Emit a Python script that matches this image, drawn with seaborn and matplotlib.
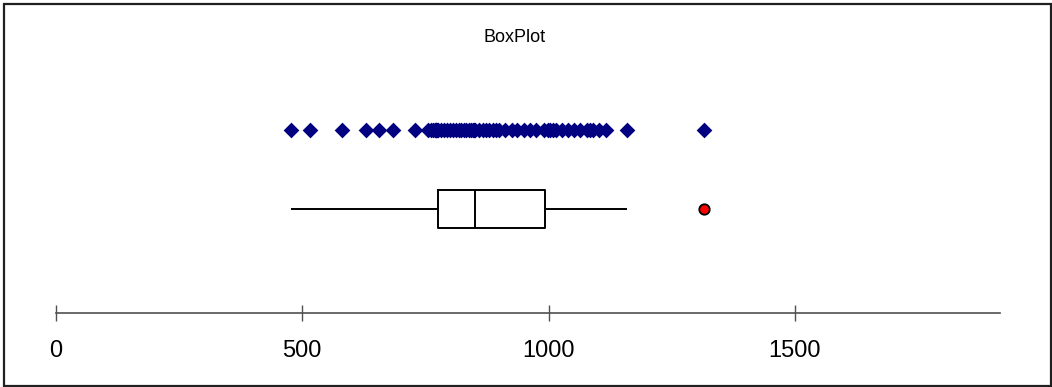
import matplotlib
matplotlib.use('Agg')
import matplotlib.pyplot as plt
import seaborn as sns
import pandas as pd
from matplotlib.patches import Rectangle

# values (one row of diamonds + the boxplot of the same data)
values = [478, 516, 580, 629, 655, 684, 729,
          755, 761, 765, 769, 771, 772, 772, 773,
          776, 782, 788, 794, 800, 806, 812, 818, 823, 829, 833, 838, 842, 846, 849,
          851, 858, 866, 873, 880, 887, 893, 900, 912, 925, 937, 950, 962, 975, 990,
          998, 1004, 1009, 1016, 1027, 1040, 1052, 1064, 1078, 1085, 1090, 1103, 1116,
          1160, 1315]
rows = ['points', 'box']
xticks = [0, 500, 1000, 1500]
title = 'BoxPlot'

df_pts = pd.DataFrame({'value': values, 'row': rows[0]})
df_box = pd.DataFrame({'value': values, 'row': rows[1]})

sns.set_style('white')
plt.rcParams['font.family'] = ['Liberation Sans', 'DejaVu Sans']
plt.rcParams['text.color'] = 'black'
plt.rcParams['xtick.color'] = 'black'

W, H = 1052, 387
fig = plt.figure(figsize=(W / 100, H / 100), dpi=100)
# axes: x=0 at 56px, right end at 1000px; bottom spine at y=313px
ax = fig.add_axes([56 / W, (H - 313) / H, (1000 - 56) / W, (313 - 60) / H])

sns.stripplot(data=df_pts, x='value', y='row', order=rows, jitter=False,
              marker='D', size=8, color='#000080', linewidth=0, ax=ax)
sns.boxplot(data=df_box, x='value', y='row', order=rows, width=0.47,
            whis=1.4, showcaps=False, fill=False, color='black', linewidth=1.4,
            flierprops=dict(marker='o', markersize=7.5, markerfacecolor='#ff0000',
                            markeredgecolor='black', markeredgewidth=1.3),
            ax=ax)

ax.set_xlim(0, (1000 - 56) / 0.4925)
ax.set_ylim(2.316, -0.886)
ax.set_xticks(xticks)
ax.set_xticklabels([str(t) for t in xticks])
ax.set_yticks([])
ax.set_xlabel('')
ax.set_ylabel('')
for s in ['top', 'left', 'right']:
    ax.spines[s].set_visible(False)
ax.spines['bottom'].set_color('#505050')
ax.spines['bottom'].set_linewidth(1.2)
ax.tick_params(axis='x', bottom=True, direction='inout', length=11.5, width=1.0,
               color='#505050', labelcolor='black', pad=14, labelsize=17)

fig.text(515 / W, 1 - 38 / H, title, ha='center', va='center', fontsize=13)

fig.add_artist(Rectangle((3.5 / W, 1 / H), 1047 / W, 382 / H, transform=fig.transFigure,
                         fill=False, edgecolor='#202020', linewidth=1.6))

fig.savefig('out.png', dpi=100)
